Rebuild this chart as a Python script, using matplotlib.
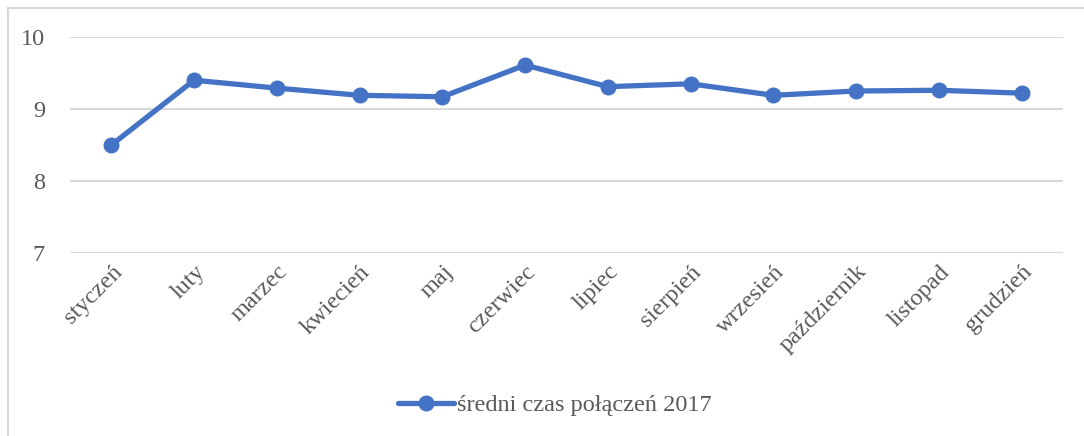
import matplotlib.pyplot as plt
from matplotlib.lines import Line2D

months = ['styczeń', 'luty', 'marzec', 'kwiecień', 'maj', 'czerwiec',
          'lipiec', 'sierpień', 'wrzesień', 'październik', 'listopad', 'grudzień']
avg_time = [8.50, 9.40, 9.29, 9.19, 9.17, 9.61, 9.31, 9.35, 9.19, 9.25, 9.26, 9.22]
series_name = 'średni czas połączeń 2017'
yticks = [7, 8, 9, 10]

plt.rcParams['font.family'] = ['Liberation Serif', 'DejaVu Serif']
text_color = '#595959'
blue = '#4472C4'
grid_color = '#D9D9D9'

W, H = 1084, 436
fig = plt.figure(figsize=(W / 100, H / 100), dpi=100)
ax = fig.add_axes([70 / W, (H - 253) / H, (1063 - 70) / W, (253 - 37) / H])

x = list(range(len(months)))
ax.plot(x, avg_time, color=blue, linewidth=3.8, marker='o', markersize=10.5,
        solid_capstyle='round', label=series_name, zorder=3)

ax.set_xlim(-0.5, len(months) - 0.5)
ax.set_ylim(7, 10)
ax.set_yticks(yticks)
ax.set_xticks(x)
ax.set_xticklabels(months, rotation=45, ha='right', rotation_mode='anchor')
ax.tick_params(axis='both', length=0, labelsize=17.5, labelcolor=text_color)
ax.tick_params(axis='y', pad=18)
ax.tick_params(axis='x', pad=6)
ax.grid(axis='y', color=grid_color, linewidth=1.5)
ax.set_axisbelow(True)
for s in ax.spines.values():
    s.set_visible(False)

# chart border (only top and left visible in crop)
fig.add_artist(Line2D([8 / W, 1], [1 - 8 / H, 1 - 8 / H], color=grid_color, linewidth=1.5))
fig.add_artist(Line2D([8 / W, 8 / W], [0, 1 - 8 / H], color=grid_color, linewidth=1.5))

leg = fig.legend(loc='center', bbox_to_anchor=(555 / W, 1 - 405 / H), frameon=False,
                 fontsize=17.5, handlelength=2.3, handletextpad=0.1, labelcolor=text_color)

plt.savefig('out.png', dpi=100)
